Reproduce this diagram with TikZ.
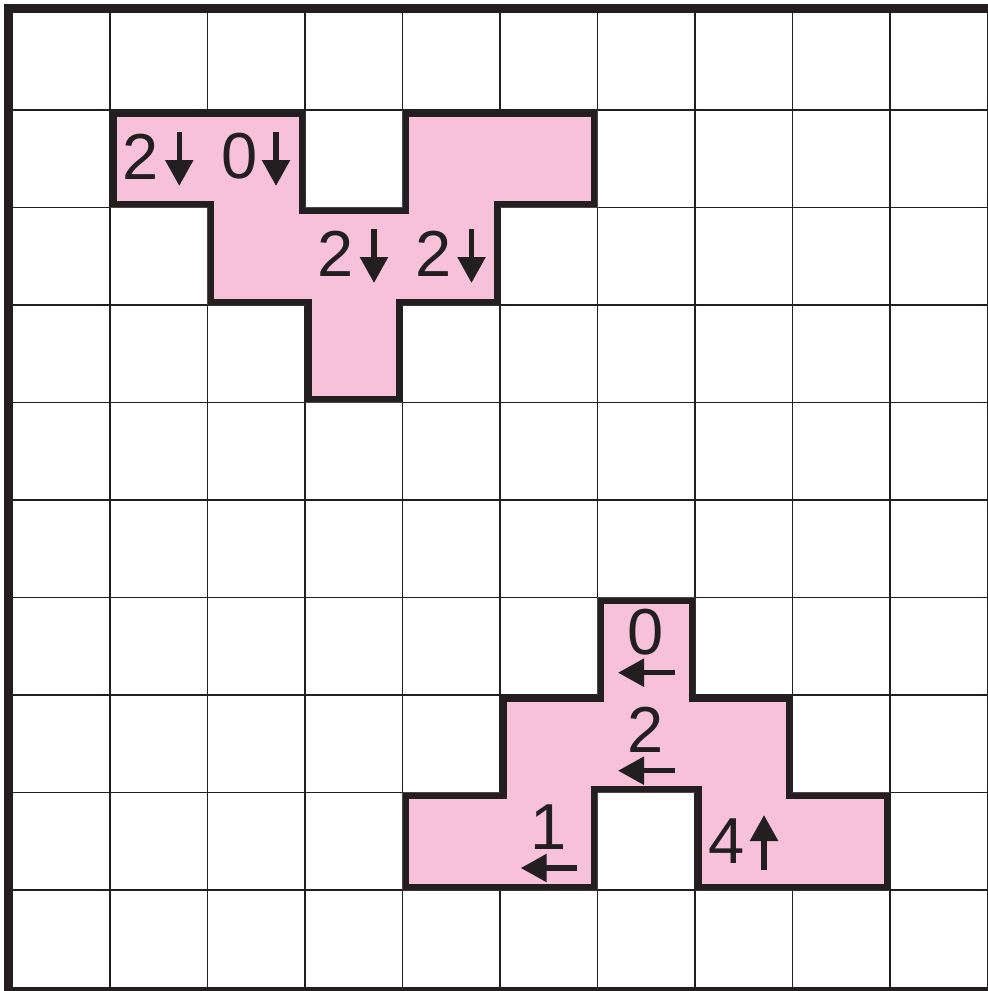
\documentclass[tikz,border=0pt]{standalone}
\usepackage{fontspec}
\setmainfont{Liberation Sans}
\usetikzlibrary{arrows.meta}
\definecolor{ink}{HTML}{231F20}
\definecolor{tile}{RGB}{246,193,217}
\tikzset{
  gridline/.style={draw=ink,line width=1.3pt},
  frameline/.style={draw=ink,line width=8pt,line cap=square},
  tileedge/.style={draw=ink,line width=13pt,line join=miter},
  digit/.style={inner sep=0pt,text=ink,font=\fontsize{65}{70}\selectfont},
  dirarrow/.style={draw=ink,line width=5.5pt,-{Triangle[width=27pt,length=26pt]}}
}
\begin{document}
\begin{tikzpicture}[x=1pt,y=-1pt]
\useasboundingbox (0,0) rectangle (988,991);
% grid
\foreach \k in {0,...,10}{
  \draw[gridline] ({12.5+97.5*\k},9) -- ({12.5+97.5*\k},991);
  \draw[gridline] (9,{12.5+97.5*\k}) -- (988,{12.5+97.5*\k});
}
% tiles
\begin{scope}[shift={(12.5,12.5)},x=97.5pt,y=-97.5pt]
  \def\shapeA{(1,1)--(3,1)--(3,2)--(4,2)--(4,1)--(6,1)--(6,2)--(5,2)--(5,3)--(4,3)--(4,4)--(3,4)--(3,3)--(2,3)--(2,2)--(1,2)--cycle}
  \begin{scope}
    \clip \shapeA;
    \fill[tile] \shapeA;
    \draw[tileedge] \shapeA;
  \end{scope}
  \def\shapeB{(6,6)--(7,6)--(7,7)--(8,7)--(8,8)--(9,8)--(9,9)--(7,9)--(7,8)--(6,8)--(6,9)--(4,9)--(4,8)--(5,8)--(5,7)--(6,7)--cycle}
  \begin{scope}
    \clip \shapeB;
    \fill[tile] \shapeB;
    \draw[tileedge] \shapeB;
  \end{scope}
\end{scope}
% frame
\draw[frameline] (1000,8.25) -- (8.25,8.25) -- (8.25,991.3) -- (1000,991.3);
% labels upper
\node[digit] (a1) at (141,156.5) {2};
\node[digit] (a2) at (239.5,156.5) {0};
\node[digit] (a3) at (336,254) {2};
\node[digit] (a4) at (433.5,254) {2};
\coordinate (a1s) at (179.3,131.7); \coordinate (a1e) at (179.3,186);
\coordinate (a2s) at (276,131.7);   \coordinate (a2e) at (276,186);
\coordinate (a3s) at (374,229);     \coordinate (a3e) at (374,283);
\coordinate (a4s) at (471.5,229);   \coordinate (a4e) at (471.5,283);
\draw[dirarrow] (a1s) -- (a1e);
\draw[dirarrow] (a2s) -- (a2e);
\draw[dirarrow] (a3s) -- (a3e);
\draw[dirarrow] (a4s) -- (a4e);
% labels lower
\node[digit] (b1) at (646,632.5) {0};
\node[digit] (b2) at (646,730) {2};
\node[digit] (b3) at (549,827.5) {1};
\node[digit] (b4) at (726.5,841.5) {4};
\coordinate (b1s) at (675,672.7); \coordinate (b1e) at (618,672.7);
\coordinate (b2s) at (675,770.7); \coordinate (b2e) at (618,770.7);
\coordinate (b3s) at (577,868);   \coordinate (b3e) at (520.7,868);
\coordinate (b4s) at (764,870);   \coordinate (b4e) at (764,815);
\draw[dirarrow] (b1s) -- (b1e);
\draw[dirarrow] (b2s) -- (b2e);
\draw[dirarrow] (b3s) -- (b3e);
\draw[dirarrow] (b4s) -- (b4e);
\end{tikzpicture}
\end{document}
